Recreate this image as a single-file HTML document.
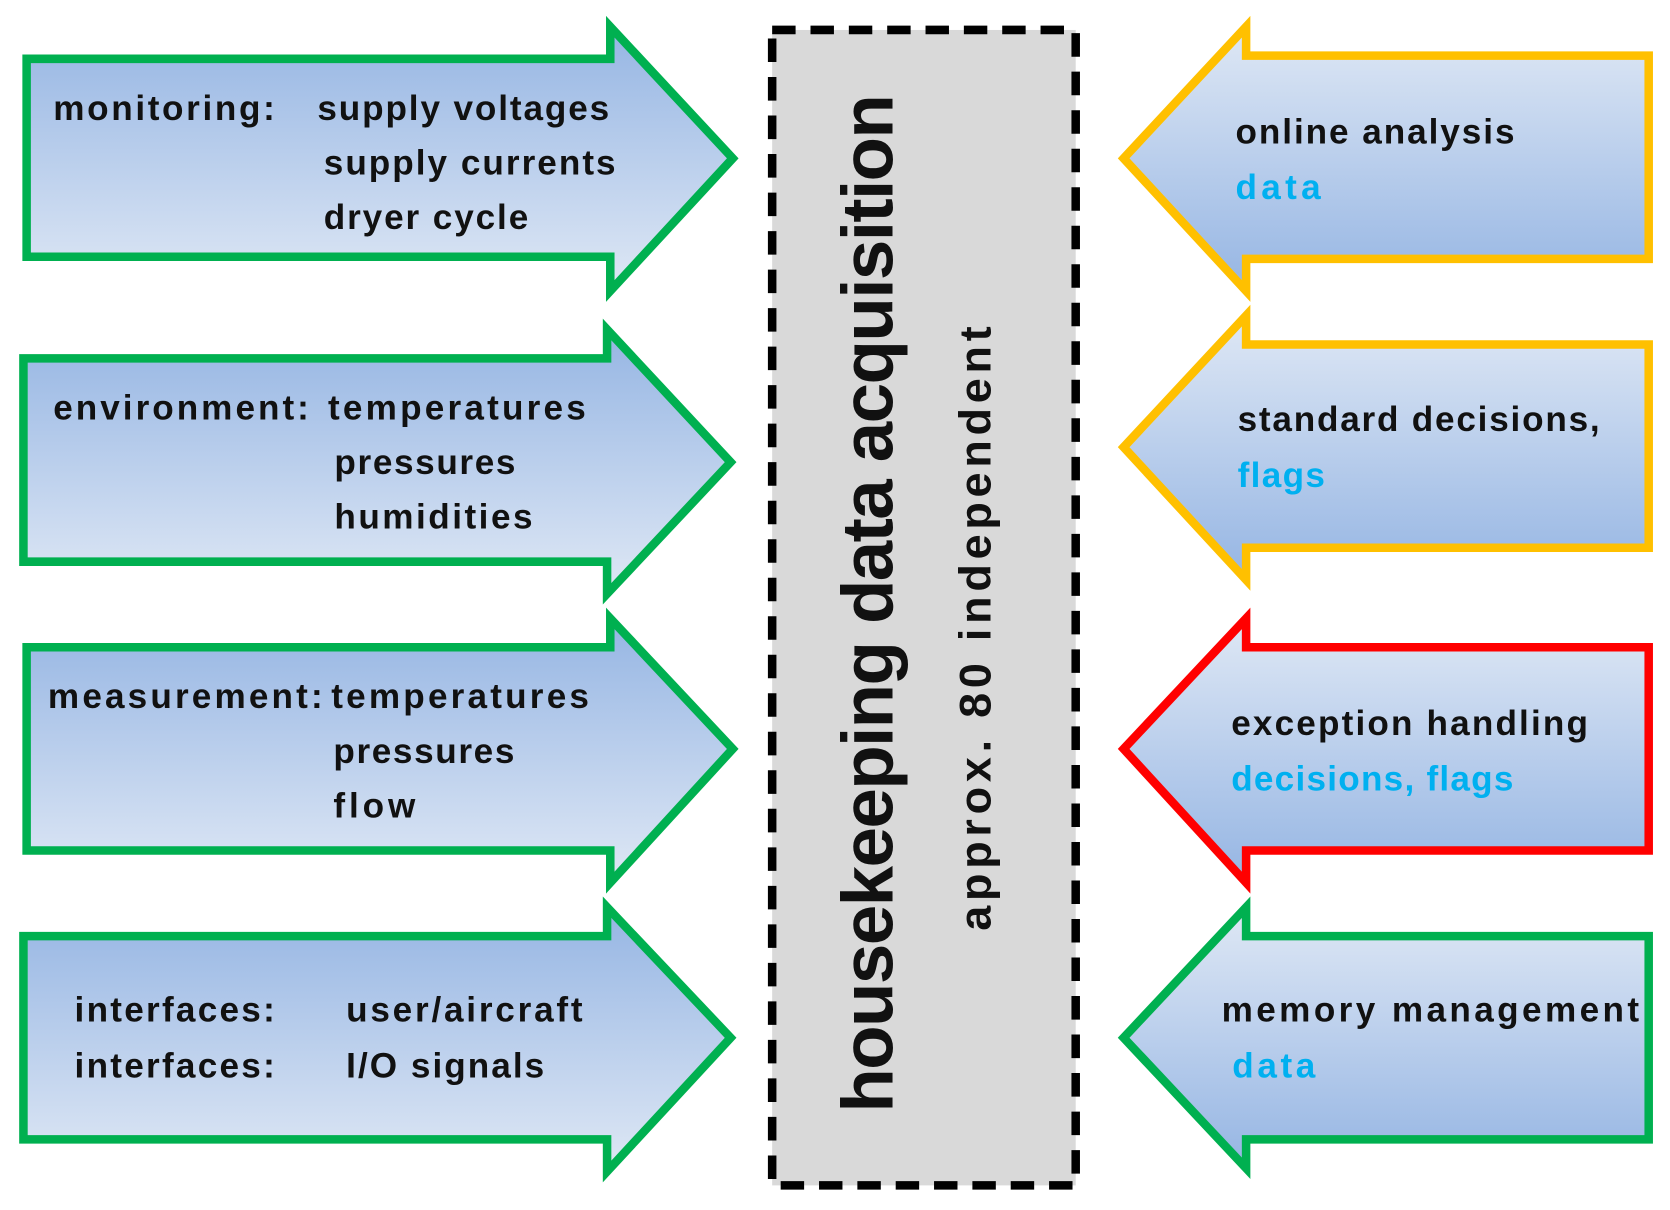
<!DOCTYPE html>
<html><head><meta charset="utf-8"><style>
html,body{margin:0;padding:0;background:#fff;}
svg{display:block;}
text{font-family:"Liberation Sans",sans-serif;font-weight:bold;}
</style></head><body>
<svg width="1670" height="1210" viewBox="0 0 1568 1131" preserveAspectRatio="none" xmlns="http://www.w3.org/2000/svg">
<defs>
<linearGradient id="gl" x1="0" y1="0" x2="0" y2="1"><stop offset="0" stop-color="#95b5e3"/><stop offset="1" stop-color="#dfe8f5"/></linearGradient>
<linearGradient id="gr" x1="0" y1="0" x2="0" y2="1"><stop offset="0" stop-color="#dfe8f5"/><stop offset="1" stop-color="#95b5e3"/></linearGradient>
</defs>
<g stroke-width="8" stroke-linejoin="miter">
<polygon points="25,55 573,55 573,25 688,148 573,272 573,240 25,240" fill="url(#gl)" stroke="#00b050"/>
<polygon points="22,335 570,335 570,308 686,432 570,555 570,525 22,525" fill="url(#gl)" stroke="#00b050"/>
<polygon points="25,605 573,605 573,578 688,700 573,825 573,795 25,795" fill="url(#gl)" stroke="#00b050"/>
<polygon points="22,875 570,875 570,848 686,970 570,1095 570,1065 22,1065" fill="url(#gl)" stroke="#00b050"/>
<polygon points="1548,52 1170,52 1170,25 1055,148 1170,272 1170,242 1548,242" fill="url(#gr)" stroke="#ffc000"/>
<polygon points="1548,322 1170,322 1170,295 1055,418 1170,542 1170,512 1548,512" fill="url(#gr)" stroke="#ffc000"/>
<polygon points="1548,605 1170,605 1170,578 1055,700 1170,825 1170,795 1548,795" fill="url(#gr)" stroke="#ff0000"/>
<polygon points="1548,875 1170,875 1170,848 1055,970 1170,1092 1170,1065 1548,1065" fill="url(#gr)" stroke="#00b050"/>
</g>
<rect x="725" y="28" width="285" height="1080" fill="#d9d9d9" stroke="#000" stroke-width="8" stroke-dasharray="22,14"/>
<g font-size="33" fill="#111">
<text x="50" y="112" textLength="208">monitoring:</text>
<text x="298" y="112" textLength="274">supply voltages</text>
<text x="304" y="163" textLength="274">supply currents</text>
<text x="304" y="214" textLength="192">dryer cycle</text>
<text x="50" y="392" textLength="240">environment:</text>
<text x="308" y="392" textLength="242">temperatures</text>
<text x="314" y="443" textLength="170">pressures</text>
<text x="314" y="494" textLength="186">humidities</text>
<text x="45" y="662" textLength="258">measurement:</text>
<text x="311" y="662" textLength="242">temperatures</text>
<text x="313" y="713" textLength="170">pressures</text>
<text x="313" y="764" textLength="77">flow</text>
<text x="70" y="955" textLength="188">interfaces:</text>
<text x="70" y="1007" textLength="188">interfaces:</text>
<text x="325" y="955" textLength="222">user/aircraft</text>
<text x="325" y="1007" textLength="186">I/O signals</text>
<text x="1160" y="134" textLength="262">online analysis</text>
<text x="1160" y="186" textLength="80" fill="#00b0f0">data</text>
<text x="1162" y="403" textLength="340">standard decisions,</text>
<text x="1162" y="455" textLength="82" fill="#00b0f0">flags</text>
<text x="1156" y="687" textLength="335">exception handling</text>
<text x="1156" y="739" textLength="265" fill="#00b0f0">decisions, flags</text>
<text x="1147" y="955" textLength="392">memory management</text>
<text x="1157" y="1007" textLength="78" fill="#00b0f0">data</text>
</g>
<text transform="translate(838,1040) rotate(-90)" font-size="68" fill="#111" textLength="952">housekeeping data acquisition</text>
<text transform="translate(930,870) rotate(-90)" font-size="42" fill="#111" textLength="565">approx. 80 independent</text>
</svg>
</body></html>
